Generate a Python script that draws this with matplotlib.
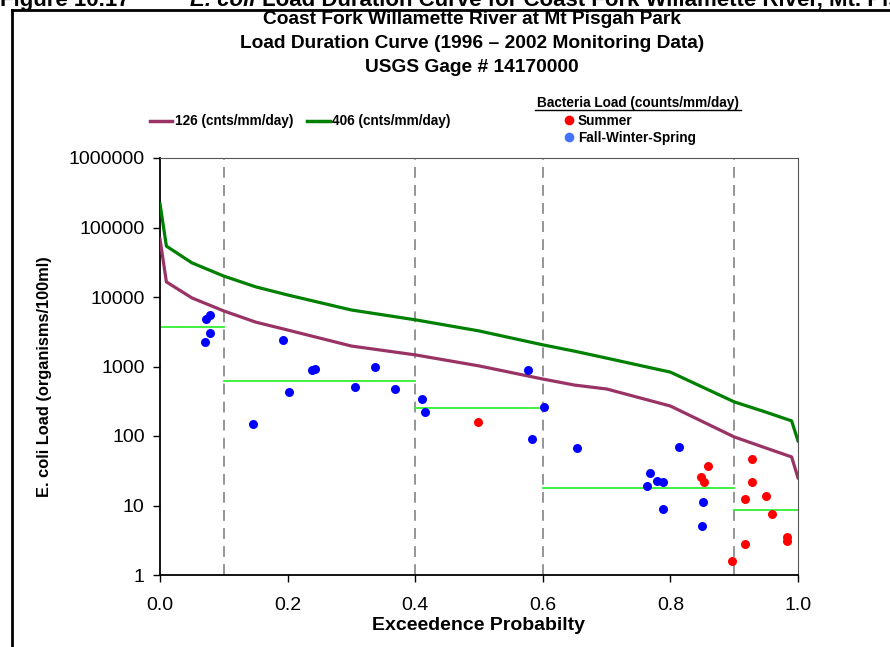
import matplotlib
matplotlib.use("Agg")
import matplotlib.pyplot as plt
from matplotlib.lines import Line2D

plt.rcParams['font.family'] = ['Liberation Sans', 'DejaVu Sans']

# load duration curves
curve_prob = [0, 0.01, 0.05, 0.1, 0.15, 0.2, 0.3, 0.4, 0.5, 0.6, 0.65, 0.7, 0.8, 0.9, 0.95, 0.99, 1.0]
load_406 = [220000, 54000, 31000, 20000, 14000, 10700, 6500, 4700, 3250, 2050, 1660, 1320, 830, 310, 220, 165, 85]
load_126 = [68000, 16500, 9700, 6300, 4350, 3350, 1970, 1470, 1020, 660, 540, 475, 270, 97, 67, 50, 25]

# flow regime boundaries and target (geomean) lines
regime_edges = [0.0, 0.1, 0.4, 0.6, 0.9, 1.0]
regime_levels = [3700, 620, 250, 17.8, 8.6]

# samples
fws_prob = [0.072, 0.078, 0.078, 0.070, 0.193, 0.202, 0.238, 0.243, 0.146, 0.306, 0.337, 0.368,
            0.410, 0.415, 0.577, 0.602, 0.583, 0.653, 0.813, 0.768, 0.779, 0.789, 0.763, 0.788,
            0.851, 0.849]
fws_load = [4800, 5500, 3000, 2250, 2400, 430, 890, 920, 150, 510, 980, 475,
            340, 225, 890, 260, 91, 67, 69, 29, 22.6, 21.8, 19, 8.9,
            11.2, 5.0]
summer_prob = [0.498, 0.859, 0.848, 0.853, 0.928, 0.928, 0.950, 0.917, 0.959, 0.982, 0.982, 0.917, 0.896]
summer_load = [160, 37, 25.7, 21.8, 47, 21.8, 13.8, 12.4, 7.6, 3.5, 3.1, 2.8, 1.6]

fig = plt.figure(figsize=(8.9, 6.47), dpi=100)
ax = fig.add_axes([160/890, 1-575/647, 638/890, 417/647])

for x in regime_edges[1:-1]:
    ax.axvline(x, color='#8c8c8c', lw=1.3, ls=(0, (6, 4)), zorder=1)

for i, lvl in enumerate(regime_levels):
    ax.plot([regime_edges[i], regime_edges[i+1]], [lvl, lvl], color='#33ee33', lw=1.3, zorder=2)

ax.plot(curve_prob, load_126, color='#993366', lw=2.3, zorder=3)
ax.plot(curve_prob, load_406, color='#008000', lw=2.3, zorder=3)

ax.scatter(fws_prob, fws_load, s=42, color='#0000ff', zorder=4, linewidths=0)
ax.scatter(summer_prob, summer_load, s=42, color='#ff0000', zorder=5, linewidths=0)

ax.set_yscale('log')
ax.set_xlim(0, 1)
ax.set_ylim(1, 1e6)
ax.set_xticks([0, 0.2, 0.4, 0.6, 0.8, 1.0])
ax.set_xticklabels(['0.0', '0.2', '0.4', '0.6', '0.8', '1.0'])
ax.set_yticks([1, 10, 100, 1000, 10000, 100000, 1000000])
ax.set_yticklabels(['1', '10', '100', '1000', '10000', '100000', '1000000'])
ax.minorticks_off()
ax.tick_params(axis='both', labelsize=14, length=5, width=1, direction='out')
ax.tick_params(axis='x', pad=11)
ax.tick_params(axis='y', pad=6)
for s in ['top', 'right']:
    ax.spines[s].set_color('#555555')
for s in ['left', 'bottom']:
    ax.spines[s].set_linewidth(1.3)

ax.set_xlabel('Exceedence Probabilty', fontsize=14, fontweight='bold', labelpad=2)
ax.set_ylabel('E. coli Load (organisms/100ml)', fontsize=11.8, fontweight='bold')
ax.yaxis.set_label_coords(-0.169, 0.475)

# titles
title_lines = ['Coast Fork Willamette River at Mt Pisgah Park',
               'Load Duration Curve (1996 \u2013 2002 Monitoring Data)',
               'USGS Gage # 14170000']
for i, t in enumerate(title_lines):
    fig.text(472/890, 1 - (19 + 24*i)/647, t, ha='center', va='center', fontsize=13.8, fontweight='bold')

# figure caption, cut off at the very top as in the source page
fig.text(0, 1 - 6/647, 'Figure 10.17', fontsize=16, fontweight='bold', va='baseline')
fig.text(190/890, 1 - 6/647, 'E. coli', fontsize=16, fontweight='bold', style='italic', va='baseline')
fig.text(262/890, 1 - 6/647, 'Load Duration Curve for Coast Fork Willamette River, Mt. Pisgah',
         fontsize=16, fontweight='bold', va='baseline')

# frame
fig.add_artist(Line2D([12/890, 1], [1-10/647, 1-10/647], color='black', lw=2))
fig.add_artist(Line2D([12/890, 12/890], [0, 1-10/647], color='black', lw=2))

# legend for curves
ly = 1 - 121/647
fig.add_artist(Line2D([150/890, 172/890], [ly, ly], color='#993366', lw=2.5))
fig.text(175/890, ly, '126 (cnts/mm/day)', fontsize=9.8, fontweight='bold', va='center')
fig.add_artist(Line2D([307/890, 330/890], [ly, ly], color='#008000', lw=2.5))
fig.text(332/890, ly, '406 (cnts/mm/day)', fontsize=9.8, fontweight='bold', va='center')

# legend for samples
fig.text(638/890, 1 - 103/647, 'Bacteria Load (counts/mm/day)', fontsize=9.8,
         fontweight='bold', ha='center', va='center')
fig.add_artist(Line2D([535/890, 741/890], [1-110/647, 1-110/647], color='black', lw=1))
fig.add_artist(Line2D([569/890], [1-120/647], marker='o', ms=7, color='#ff0000', mec='none'))
fig.text(578/890, 1 - 121/647, 'Summer', fontsize=9.8, fontweight='bold', va='center')
fig.add_artist(Line2D([569/890], [1-137/647], marker='o', ms=7, color='#4472ff', mec='none'))
fig.text(578/890, 1 - 138/647, 'Fall-Winter-Spring', fontsize=9.8, fontweight='bold', va='center')

fig.savefig('out.png', dpi=100)
